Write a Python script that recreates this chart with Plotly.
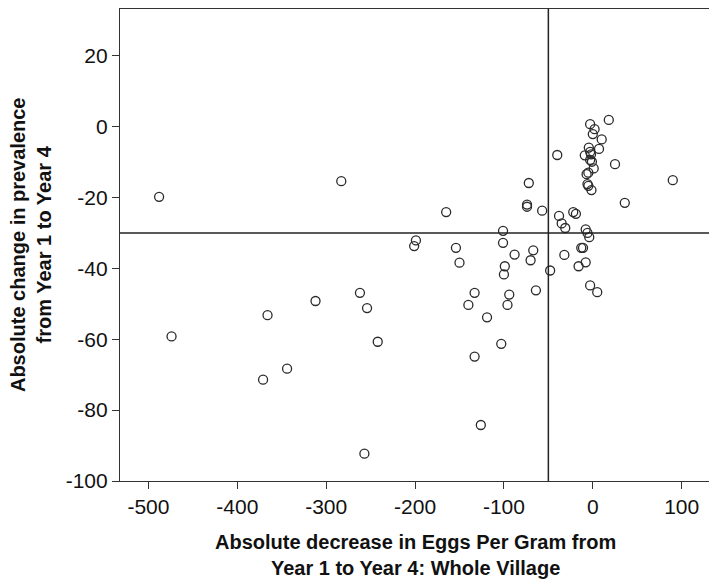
import plotly.graph_objects as go

# Absolute decrease in EPG (x) and absolute change in prevalence (y)
egg_decrease = [
    -488, -283, -199, -201, -262, -254, -312, -366, -474, -242,
    -344, -371, -257, -72, -74, -74, -165, -57, -38, -35,
    -31, -22, -19, -101, -154, -101, -150, -88, -67, -70,
    -32, -99, -100, -48, -13, -11, -8, -16, -133, -94,
    -64, -140, -96, -119, -103, -133, -126, 18, -3, 2,
    0, 10, 7, -4.5, -9, -3, -2, -40, -1, -3,
    1, 25, -5, -7, -6, -5, -1.5, 90, 36, -8,
    -6, -4, -3, 5,
]
prev_change = [
    -19.8, -15.4, -32.1, -33.7, -46.9, -51.2, -49.2, -53.2, -59.2, -60.7,
    -68.3, -71.4, -92.3, -15.9, -22.0, -22.6, -24.1, -23.7, -25.2, -27.3,
    -28.6, -24.1, -24.6, -29.4, -34.2, -32.8, -38.4, -36.1, -34.9, -37.7,
    -36.2, -39.4, -41.7, -40.6, -34.2, -34.2, -38.3, -39.4, -46.9, -47.4,
    -46.2, -50.3, -50.3, -53.8, -61.3, -64.9, -84.2, 1.9, 0.7, -0.7,
    -2.1, -3.6, -6.3, -5.9, -8.1, -7.1, -7.8, -8.0, -9.9, -9.4,
    -11.8, -10.6, -13.0, -13.4, -16.2, -16.7, -17.9, -15.1, -21.5, -29.0,
    -30.0, -31.2, -44.8, -46.7,
]

# Reference lines
ref_x = -50
ref_y = -30

x_ticks = [-500, -400, -300, -200, -100, 0, 100]
x_ticktext = ["-500", "-400", "-300", "-200", "-100", "0", "100"]
y_ticks = [-100, -80, -60, -40, -20, 0, 20]
y_ticktext = ["-100", "-80", "-60", "-40", "-20", "0", "20"]

x_title = "Absolute decrease in Eggs Per Gram from<br>Year 1 to Year 4: Whole Village"
y_title = "Absolute change in prevalence<br>from Year 1 to Year 4"

FONT = "Liberation Sans, Arial, sans-serif"

fig = go.Figure()
fig.add_trace(go.Scatter(
    x=egg_decrease, y=prev_change, mode="markers",
    marker=dict(symbol="circle-open", size=9, color="#2a2a2a",
                line=dict(width=1.3, color="#2a2a2a")),
    showlegend=False, hoverinfo="x+y",
))

fig.add_shape(type="line", xref="x", yref="paper", x0=ref_x, x1=ref_x, y0=0, y1=1,
              line=dict(color="#222", width=1.5))
fig.add_shape(type="line", xref="paper", yref="y", x0=0, x1=1, y0=ref_y, y1=ref_y,
              line=dict(color="#222", width=1.5))

axis_common = dict(
    showgrid=False, zeroline=False, showline=True, mirror=True,
    linecolor="#333", linewidth=1.2, ticks="outside", ticklen=7,
    tickcolor="#333", tickwidth=1, automargin=False,
    tickfont=dict(family=FONT, size=21, color="#111"),
)

fig.update_layout(
    width=709, height=577,
    margin=dict(l=112, r=6, t=1, b=104),
    plot_bgcolor="white", paper_bgcolor="white",
    xaxis=dict(range=[-532, 133], tickvals=x_ticks, ticktext=x_ticktext, **axis_common),
    yaxis=dict(range=[-100, 33.2], tickvals=y_ticks, ticktext=y_ticktext, **axis_common),
    annotations=[
        dict(text="<b>" + x_title + "</b>", xref="paper", yref="paper",
             x=0.5, y=-0.157, xanchor="center", yanchor="middle", showarrow=False,
             font=dict(family=FONT, size=20, color="#111")),
        dict(text="<b>" + y_title + "</b>", xref="paper", yref="paper",
             x=-0.1505, y=0.5, xanchor="center", yanchor="middle", showarrow=False,
             textangle=-90, font=dict(family=FONT, size=20, color="#111")),
    ],
)

fig.write_html("out.html")
